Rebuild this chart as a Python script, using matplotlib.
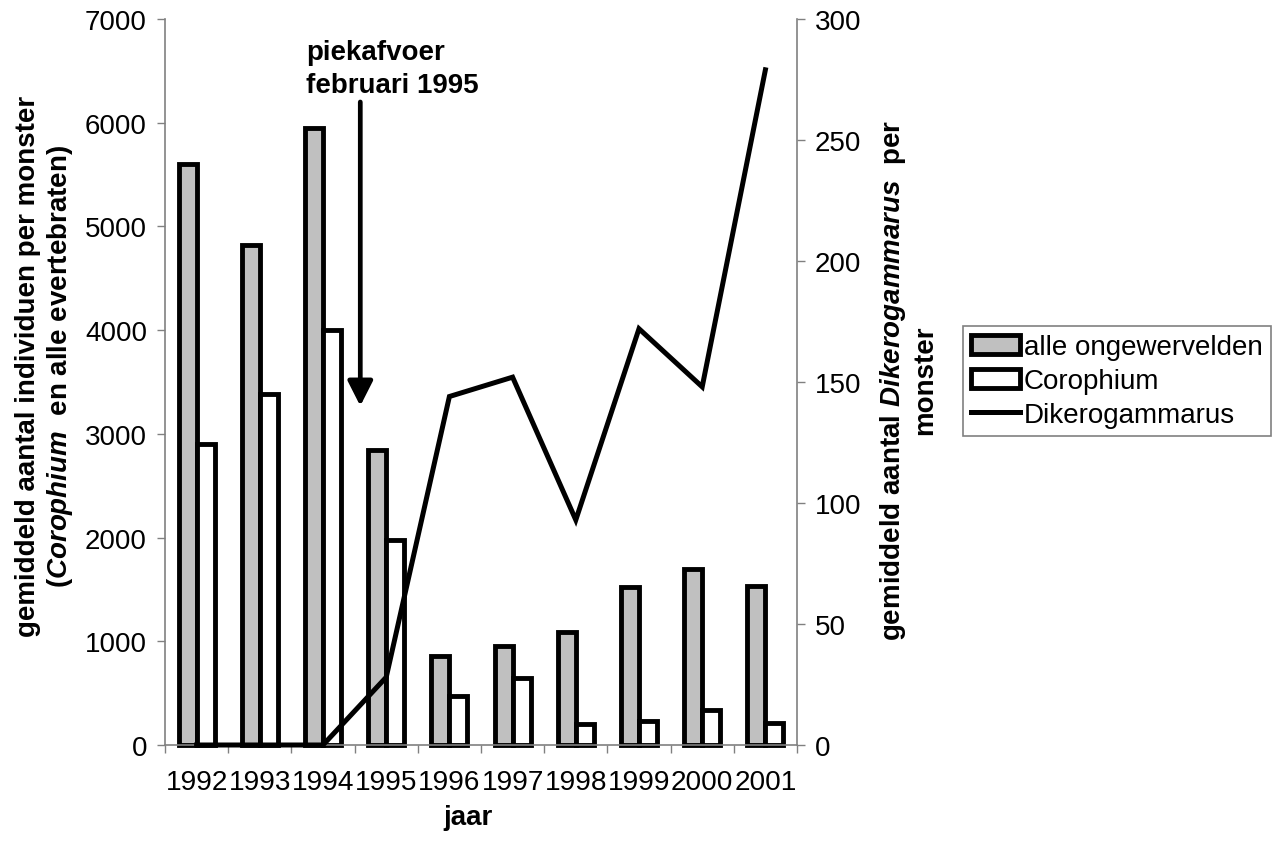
import numpy as np
import matplotlib
matplotlib.use("Agg")
import matplotlib.pyplot as plt

# Data
years = ["1992", "1993", "1994", "1995", "1996", "1997", "1998", "1999", "2000", "2001"]
alle_ongewervelden = [5600, 4820, 5950, 2840, 855, 955, 1090, 1520, 1700, 1530]
corophium = [2900, 3380, 4000, 1980, 470, 650, 200, 230, 340, 210]
dikerogammarus = [0, 0, 0, 28, 144, 152, 93, 172, 148, 279]

plt.rcParams["font.family"] = ["Liberation Sans", "DejaVu Sans"]
plt.rcParams["mathtext.fontset"] = "custom"
plt.rcParams["mathtext.it"] = "Liberation Sans:italic:bold"
plt.rcParams["mathtext.rm"] = "Liberation Sans:bold"
plt.rcParams["mathtext.bf"] = "Liberation Sans:bold"

W, H = 1272, 845
fig = plt.figure(figsize=(W / 100, H / 100), dpi=100)
ax = fig.add_axes([165 / W, 99 / H, (797 - 165) / W, (746 - 20) / H])

x = np.arange(len(years))
bw = 0.285
edge_lw = 3.5
grey = "#808080"

b1 = ax.bar(x - bw / 2, alle_ongewervelden, bw, color="#C0C0C0", edgecolor="black",
            linewidth=edge_lw, clip_on=False, zorder=2, label="alle ongewervelden")
b2 = ax.bar(x + bw / 2, corophium, bw, color="white", edgecolor="black",
            linewidth=edge_lw, clip_on=False, zorder=2, label="Corophium")

ax.set_xlim(-0.5, len(years) - 0.5)
ax.set_ylim(0, 7000)
ax.set_yticks(np.arange(0, 7001, 1000))
ax.set_xticks(x, years)
ax.set_xticks(np.arange(-0.5, len(years), 1), minor=True)
ax.tick_params(axis="x", which="major", length=0, pad=17, labelsize=20.2)
ax.tick_params(axis="x", which="minor", length=6, width=1, color=grey, direction="out")
ax.tick_params(axis="y", length=6, width=1, color=grey, direction="out", pad=7, labelsize=20)
for side in ["top", "right"]:
    ax.spines[side].set_visible(False)
for side in ["left", "bottom"]:
    ax.spines[side].set_color(grey)
    ax.spines[side].set_linewidth(1.2)

# Secondary axis with the Dikerogammarus line
ax2 = ax.twinx()
ln, = ax2.plot(x, dikerogammarus, color="black", linewidth=3.6, clip_on=False,
               solid_joinstyle="miter", label="Dikerogammarus", zorder=3)
ax2.set_ylim(0, 300)
ax2.set_yticks(np.arange(0, 301, 50))
ax2.tick_params(axis="y", length=6, width=1, color=grey, direction="out", pad=7, labelsize=20)
for side in ["top", "left", "bottom"]:
    ax2.spines[side].set_visible(False)
ax2.spines["right"].set_color(grey)
ax2.spines["right"].set_linewidth(1.2)

# Peak discharge annotation
ax.annotate("", xy=(2.59, 3269), xytext=(2.59, 6200),
            arrowprops=dict(arrowstyle="-|>,head_length=0.75,head_width=0.38",
                            mutation_scale=20, lw=3.4, color="black",
                            shrinkA=0, shrinkB=0))
ax.text(1.73, 6615, "piekafvoer", fontsize=20, fontweight="bold",
        ha="left", va="baseline")
ax.text(1.73, 6296, "februari 1995", fontsize=20, fontweight="bold",
        ha="left", va="baseline")

# Axis titles
fig.text(45 / W, 1 - 366 / H,
         "gemiddeld aantal individuen per monster\n($\\mathit{Corophium}$  en alle evertebraten)",
         rotation=90, ha="center", va="center", fontsize=20, fontweight="bold",
         multialignment="center")
fig.text(908 / W, 1 - 380 / H,
         "gemiddeld aantal $\\mathit{Dikerogammarus}$  per\nmonster",
         rotation=90, ha="center", va="center", fontsize=20, fontweight="bold",
         multialignment="center")
fig.text(468 / W, 1 - 818 / H, "jaar", ha="center", va="center",
         fontsize=20, fontweight="bold")

leg = fig.legend([b1, b2, ln], ["alle ongewervelden", "Corophium", "Dikerogammarus"],
                 loc="upper left", bbox_to_anchor=(963 / W, 1 - 327 / H),
                 fontsize=20, frameon=True, fancybox=False, framealpha=1,
                 edgecolor=grey, handlelength=1.75, handletextpad=0.15,
                 borderpad=0.3, labelspacing=0.28, borderaxespad=0)
leg.get_frame().set_linewidth(1.2)

fig.savefig("out.png", dpi=100, facecolor="white")
